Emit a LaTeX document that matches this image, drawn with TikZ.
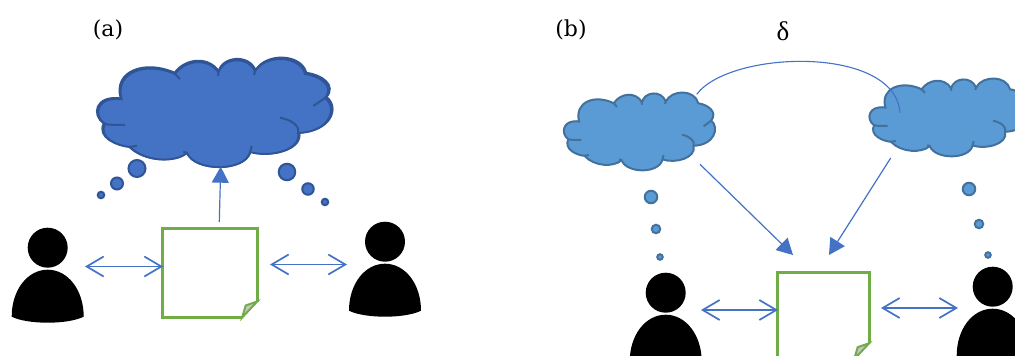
\documentclass[tikz,border=0pt]{standalone}
\usepackage{fontspec}
\usetikzlibrary{arrows.meta}
\newfontfamily\labelfont{DejaVu Serif}
\newfontfamily\deltafont{Liberation Serif}
\definecolor{arrowblue}{HTML}{4472C4}
\definecolor{darkcloud}{HTML}{2F5597}
\definecolor{lightcloud}{HTML}{5B9BD5}
\definecolor{lightedge}{HTML}{41719C}
\definecolor{docgreen}{HTML}{70AD47}
\newcommand{\cloudoutline}{(41.7,49.3) .. controls (34,22) and (66,11) .. (95,24)
    .. controls (105,10) and (128,7) .. (138.5,22.5)
    .. controls (142,8) and (168,5) .. (175,21.5)
    .. controls (185,4) and (220,5) .. (225,24)
    .. controls (240,26) and (255,36) .. (245,48)
    .. controls (258,58) and (250,82) .. (218,83)
    .. controls (222,100) and (190,108) .. (170,102)
    .. controls (165,122) and (115,122) .. (107,103)
    .. controls (95,113) and (65,112) .. (50,97)
    .. controls (38,96) and (18,88) .. (25,74)
    .. controls (13,66) and (16,46) .. (41.7,49.3) -- cycle}
\newcommand{\cloudticks}{(45,75) .. controls (38,75) and (30,75) .. (25,74)
    (57,95.7) -- (50,97)
    (100,29) -- (95,24)
    (138,26) -- (138.5,22.5)
    (174,25) -- (175,21.5)
    (200,67.7) .. controls (212,70) and (220,76) .. (218,83)
    (233.3,56) -- (245,48)
    (171.7,96) -- (170,102)
    (103.3,101.7) -- (107,103)}
\tikzset{
    person/.pic={
        \fill[black] (0,0) circle (20);
        \fill[black] (-36,69) .. controls (-36,42) and (-20,22) .. (0,22)
            .. controls (20,22) and (36,42) .. (36,69)
            .. controls (20,77) and (-20,77) .. (-36,69) -- cycle;
    },
    bigcloud/.pic={
        \draw[draw=darkcloud, fill=arrowblue, line width=1.9pt, shift={(-1.6,-1.6)}, scale=1.013] \cloudoutline;
        \draw[draw=darkcloud, fill=arrowblue, line width=1.9pt] \cloudoutline;
        \draw[draw=darkcloud, line width=2pt] \cloudticks;
    },
    smallcloud/.pic={
        \draw[draw=lightedge, fill=lightcloud, line width=2pt] \cloudoutline;
        \draw[draw=lightedge, line width=2pt] \cloudticks;
    }
}
\begin{document}
\begin{tikzpicture}[x=1pt, y=-1pt,
    label/.style={font=\labelfont\fontsize{22}{26}\selectfont, inner sep=0pt},
    deltalabel/.style={font=\deltafont\fontsize{27}{30}\selectfont, inner sep=0pt},
    bubbleA/.style={shape=circle, draw=darkcloud, fill=arrowblue, line width=2pt, inner sep=0pt},
    bubbleB/.style={shape=circle, draw=lightedge, fill=lightcloud, line width=2pt, inner sep=0pt},
    docbox/.style={shape=rectangle, inner sep=0pt},
    docline/.style={draw=docgreen, line width=2.8pt, line join=miter},
    fold/.style={draw=docgreen, fill=black!22, line width=2pt, line join=miter},
    dblarrow/.style={draw=arrowblue, line width=1.7pt, {Straight Barb[length=17pt,width=20pt]}-{Straight Barb[length=17pt,width=20pt]}},
    solidarrow/.style={draw=arrowblue, line width=1.2pt, -{Triangle[length=16pt,width=17pt]}},
    thinarc/.style={draw=arrowblue, line width=1.1pt}]
    \clip (0,0) rectangle (1015,356);
    \fill[white] (0,0) rectangle (1015,356);

    \node[label] (labelA) at (108,30) {(a)};
    \node[label] (labelB) at (571,30) {(b)};
    \node[deltalabel] (labelD) at (783,31) {δ};

    \pic at (80,50) {bigcloud};
    \node[bubbleA, minimum size=17pt] (bubA1) at (137,168.5) {};
    \node[bubbleA, minimum size=12pt] (bubA2) at (117,183.5) {};
    \node[bubbleA, minimum size=6.5pt] (bubA3) at (101,195) {};
    \node[bubbleA, minimum size=16.5pt] (bubA4) at (287,172) {};
    \node[bubbleA, minimum size=11.5pt] (bubA5) at (308,189) {};
    \node[bubbleA, minimum size=6.5pt] (bubA6) at (325,202) {};

    \pic at (47.7,247.7) {person};
    \pic at (385,241.7) {person};

    \node[docbox, minimum width=94pt, minimum height=89pt] (docA) at (210,272.8) {};
    \draw[docline] ([yshift=16pt]docA.south east) -- (docA.north east) -- (docA.north west) -- (docA.south west) -- ([xshift=-15pt]docA.south east);
    \draw[fold] ([xshift=-15pt]docA.south east) -- ([xshift=-11.5pt,yshift=12pt]docA.south east) -- ([yshift=16pt]docA.south east) -- cycle;

    \coordinate (leftA) at (85,266.5);
    \coordinate (docAleft) at (163,266.5);
    \coordinate (docAright) at (270,264.5);
    \coordinate (rightA) at (347,264.5);
    \coordinate (docAtop) at (219.3,222);
    \coordinate (cloudAbot) at (220.7,166.7);
    \draw[dblarrow] (leftA) -- (docAleft);
    \draw[dblarrow] (docAright) -- (rightA);
    \draw[solidarrow] (docAtop) -- (cloudAbot);

    \pic[xscale=0.65, yscale=0.72] at (552,86) {smallcloud};
    \pic[xscale=0.68, yscale=0.72] at (857,72) {smallcloud};
    \node[bubbleB, minimum size=12.5pt] (bubB1) at (651,197) {};
    \node[bubbleB, minimum size=8.5pt] (bubB2) at (656,229) {};
    \node[bubbleB, minimum size=5.5pt] (bubB3) at (660,257) {};
    \node[bubbleB, minimum size=12.5pt] (bubB4) at (969,189) {};
    \node[bubbleB, minimum size=8.5pt] (bubB5) at (979,224) {};
    \node[bubbleB, minimum size=5.5pt] (bubB6) at (988,255) {};

    \pic at (665.7,292.7) {person};
    \pic at (992.7,286.7) {person};

    \node[docbox, minimum width=91pt, minimum height=86pt] (docB) at (823.5,316) {};
    \draw[docline] ([yshift=16pt]docB.south east) -- (docB.north east) -- (docB.north west) -- (docB.south west) -- ([xshift=-15pt]docB.south east);
    \draw[fold] ([xshift=-15pt]docB.south east) -- ([xshift=-11.5pt,yshift=12pt]docB.south east) -- ([yshift=16pt]docB.south east) -- cycle;

    \coordinate (leftB) at (701,310);
    \coordinate (docBleft) at (778,310);
    \coordinate (docBright) at (881,308);
    \coordinate (rightB) at (958,308);
    \draw[dblarrow] (leftB) -- (docBleft);
    \draw[dblarrow] (docBright) -- (rightB);

    \coordinate (cloudBleft) at (700,164.3);
    \coordinate (cloudBright) at (890.7,158);
    \coordinate (docBtipL) at (793,255);
    \coordinate (docBtipR) at (829,255);
    \draw[solidarrow] (cloudBleft) -- (docBtipL);
    \draw[solidarrow] (cloudBright) -- (docBtipR);

    \coordinate (arcL) at (696.7,94.3);
    \coordinate (arcR) at (900,112.7);
    \draw[thinarc] (arcL) .. controls (730,50) and (895,45) .. (arcR);
\end{tikzpicture}
\end{document}
